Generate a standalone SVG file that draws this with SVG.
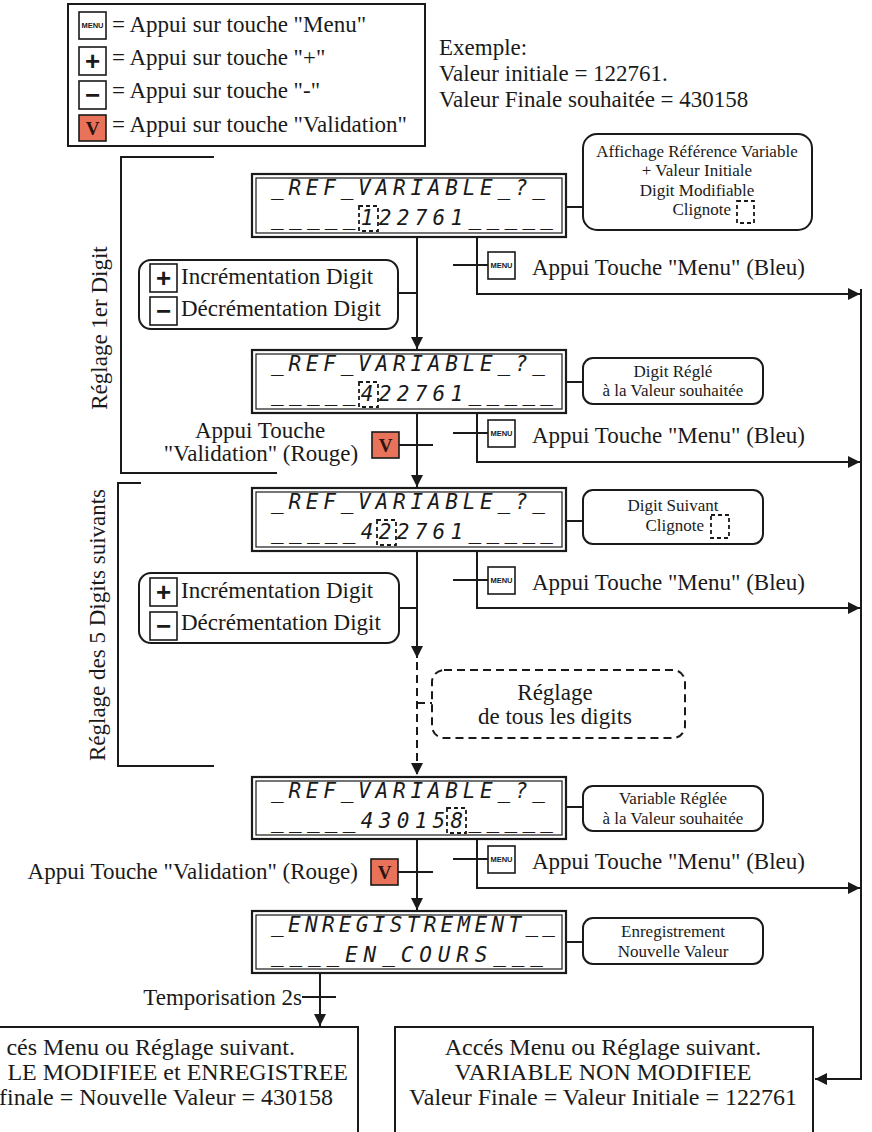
<svg xmlns="http://www.w3.org/2000/svg" width="872" height="1132" viewBox="0 0 872 1132">
<defs>
<style>
.ln{fill:none;stroke:#1a1a1a;stroke-width:2}
.dl{fill:none;stroke:#1a1a1a;stroke-width:2;stroke-dasharray:8 5}
.t{font-family:"Liberation Serif","Times New Roman",serif;fill:#1a1a1a;font-size:23px}
.b{font-family:"Liberation Serif","Times New Roman",serif;fill:#1a1a1a;font-size:24px}
.sm{font-family:"Liberation Serif","Times New Roman",serif;fill:#1a1a1a;font-size:17px}
.mid{text-anchor:middle}
.end{text-anchor:end}
.lcd{font-family:"DejaVu Sans Mono",monospace;font-style:oblique;font-size:21px;fill:#1a1a1a}
.lcdo{fill:#fff;stroke:#1a1a1a;stroke-width:2.2}
.lcdi{fill:none;stroke:#1a1a1a;stroke-width:1.2}
.hl{fill:none;stroke:#1a1a1a;stroke-width:1.8;stroke-dasharray:4 3}
.key{fill:#fff;stroke:#1a1a1a;stroke-width:1.6}
.vkey{fill:#E8735A;stroke:#1a1a1a;stroke-width:1.6}
.kt{font-family:"Liberation Sans",Arial,sans-serif;font-weight:bold;fill:#1a1a1a;text-anchor:middle}
.vt{font-family:"Liberation Serif","Times New Roman",serif;font-weight:bold;fill:#2a1410;text-anchor:middle;font-size:19px}
.co{fill:#fff;stroke:#1a1a1a;stroke-width:2}
.cod{fill:#fff;stroke:#1a1a1a;stroke-width:2;stroke-dasharray:8 5}
.box{fill:#fff;stroke:#1a1a1a;stroke-width:2}
</style>
<marker id="ah" viewBox="0 0 12 12" refX="12" refY="6" markerWidth="12" markerHeight="12" markerUnits="userSpaceOnUse" orient="auto"><path d="M0,0 L12,6 L0,12 z" fill="#1a1a1a"/></marker>
<g id="kmenu"><rect class="key" x="0" y="0" width="27" height="27"/><text class="kt" x="13.5" y="16" font-size="7.5">MENU</text></g>
<g id="kplus"><rect class="key" x="0" y="0" width="27" height="28"/><text class="kt" x="13.5" y="23" font-size="26">+</text></g>
<g id="kminus"><rect class="key" x="0" y="0" width="27" height="28"/><text class="kt" x="13.5" y="23" font-size="26">−</text></g>
<g id="kv"><rect class="vkey" x="0" y="0" width="27" height="26"/><text class="vt" x="13.5" y="20">V</text></g>
</defs>
<rect width="872" height="1132" fill="#fff"/>

<g id="legend">
<rect class="box" x="68" y="4" width="357" height="142"/>
<use href="#kmenu" x="79" y="12"/>
<text class="t" x="112" y="32">= Appui sur touche "Menu"</text>
<use href="#kplus" x="79" y="47"/>
<text class="t" x="112" y="65">= Appui sur touche "+"</text>
<use href="#kminus" x="79" y="81"/>
<text class="t" x="112" y="98">= Appui sur touche "-"</text>
<use href="#kv" x="79" y="115"/>
<text class="t" x="112" y="132">= Appui sur touche "Validation"</text>
</g>

<g id="exemple">
<text class="t" x="439" y="55">Exemple:</text>
<text class="t" x="439" y="81">Valeur initiale = 122761.</text>
<text class="t" x="439" y="107">Valeur Finale souhaitée = 430158</text>
</g>

<g id="bracket1">
<path class="ln" d="M214,157 H121 V473 H277"/>
<text class="t mid" transform="translate(107,328) rotate(-90)">Réglage 1er Digit</text>
</g>
<g id="bracket2">
<path class="ln" d="M141,483 H118 V766 H214"/>
<text class="t mid" transform="translate(105,625) rotate(-90)">Réglage des 5 Digits suivants</text>
</g>

<g id="connectors">
<path class="ln" d="M417,237 V349" marker-end="url(#ah)"/>
<path class="ln" d="M417,413 V487" marker-end="url(#ah)"/>
<path class="ln" d="M417,551 V658" marker-end="url(#ah)"/>
<path class="dl" d="M417,662 V775" marker-end="url(#ah)"/>
<path class="dl" d="M417,703 H432"/>
<path class="ln" d="M417,839 V910" marker-end="url(#ah)"/>
<path class="ln" d="M320,973 V1026" marker-end="url(#ah)"/>
<path class="ln" d="M302,997 H336"/>
<path class="ln" d="M398,293 H417"/>
<path class="ln" d="M399,608 H417"/>
<path class="ln" d="M398,445 H433"/>
<path class="ln" d="M398,872 H433"/>
<path class="ln" d="M566,207 H583"/>
<path class="ln" d="M566,382 H583"/>
<path class="ln" d="M566,521 H583"/>
<path class="ln" d="M566,807 H583"/>
<path class="ln" d="M566,942 H583"/>
<path class="ln" d="M477,237 V294 H860" marker-end="url(#ah)"/>
<path class="ln" d="M477,413 V462 H860" marker-end="url(#ah)"/>
<path class="ln" d="M477,551 V608 H860" marker-end="url(#ah)"/>
<path class="ln" d="M477,839 V888 H860" marker-end="url(#ah)"/>
<path class="ln" d="M453,265 H488"/>
<path class="ln" d="M453,433 H488"/>
<path class="ln" d="M453,580 H488"/>
<path class="ln" d="M453,859 H488"/>
<path class="ln" d="M861,289 V1079 H815" marker-end="url(#ah)"/>
</g>

<g id="menu1"><use href="#kmenu" x="488" y="252"/><text class="t" x="532" y="275">Appui Touche "Menu" (Bleu)</text></g>
<g id="menu2"><use href="#kmenu" x="488" y="420"/><text class="t" x="532" y="443">Appui Touche "Menu" (Bleu)</text></g>
<g id="menu3"><use href="#kmenu" x="488" y="567"/><text class="t" x="532" y="590">Appui Touche "Menu" (Bleu)</text></g>
<g id="menu4"><use href="#kmenu" x="488" y="846"/><text class="t" x="532" y="869">Appui Touche "Menu" (Bleu)</text></g>

<g id="valid1"><use href="#kv" x="372" y="432"/>
<text class="t mid" x="260" y="438">Appui Touche</text>
<text class="t mid" x="261" y="461">"Validation" (Rouge)</text></g>
<g id="valid2"><use href="#kv" x="371" y="859"/>
<text class="t end" x="358" y="879">Appui Touche "Validation" (Rouge)</text></g>

<g id="lcd1">
<rect class="lcdo" x="252" y="174" width="314" height="63"/>
<rect class="lcdi" x="256" y="178" width="306" height="55"/>
<text class="lcd" x="271" y="195" textLength="274" lengthAdjust="spacing">_REF_VARIABLE_?_</text>
<text class="lcd" x="271" y="225" textLength="282" lengthAdjust="spacing">_____122761_____</text>
<rect class="hl" x="359" y="206" width="19" height="25"/>
</g>
<g id="lcd2">
<rect class="lcdo" x="252" y="350" width="314" height="63"/>
<rect class="lcdi" x="256" y="354" width="306" height="55"/>
<text class="lcd" x="271" y="371" textLength="274" lengthAdjust="spacing">_REF_VARIABLE_?_</text>
<text class="lcd" x="271" y="401" textLength="282" lengthAdjust="spacing">_____422761_____</text>
<rect class="hl" x="359" y="382" width="19" height="25"/>
</g>
<g id="lcd3">
<rect class="lcdo" x="252" y="488" width="314" height="63"/>
<rect class="lcdi" x="256" y="492" width="306" height="55"/>
<text class="lcd" x="271" y="509" textLength="274" lengthAdjust="spacing">_REF_VARIABLE_?_</text>
<text class="lcd" x="271" y="539" textLength="282" lengthAdjust="spacing">_____422761_____</text>
<rect class="hl" x="377" y="520" width="19" height="25"/>
</g>
<g id="lcd4">
<rect class="lcdo" x="252" y="777" width="314" height="62"/>
<rect class="lcdi" x="256" y="781" width="306" height="54"/>
<text class="lcd" x="271" y="798" textLength="274" lengthAdjust="spacing">_REF_VARIABLE_?_</text>
<text class="lcd" x="271" y="828" textLength="282" lengthAdjust="spacing">_____430158_____</text>
<rect class="hl" x="447" y="808" width="19" height="25"/>
</g>
<g id="lcd5">
<rect class="lcdo" x="252" y="911" width="314" height="62"/>
<rect class="lcdi" x="256" y="915" width="306" height="54"/>
<text class="lcd" x="271" y="932" textLength="284" lengthAdjust="spacing">_ENREGISTREMENT__</text>
<text class="lcd" x="271" y="962" textLength="272" lengthAdjust="spacing">____EN_COURS___</text>
</g>

<g id="callout1">
<rect class="co" x="583" y="134" width="229" height="96" rx="14"/>
<text class="sm mid" x="697" y="157">Affichage Référence Variable</text>
<text class="sm mid" x="697" y="176">+ Valeur Initiale</text>
<text class="sm mid" x="697" y="196">Digit Modifiable</text>
<text class="sm end" x="731" y="215">Clignote</text>
<rect class="hl" x="737" y="201" width="17" height="22"/>
</g>
<g id="callout2">
<rect class="co" x="583" y="358" width="180" height="46" rx="10"/>
<text class="sm mid" x="673" y="377">Digit Réglé</text>
<text class="sm mid" x="673" y="396">à la Valeur souhaitée</text>
</g>
<g id="callout3">
<rect class="co" x="583" y="490" width="180" height="54" rx="10"/>
<text class="sm mid" x="673" y="511">Digit Suivant</text>
<text class="sm end" x="704" y="531">Clignote</text>
<rect class="hl" x="711" y="515" width="18" height="23"/>
</g>
<g id="callout4">
<rect class="co" x="583" y="786" width="180" height="45" rx="10"/>
<text class="sm mid" x="673" y="804">Variable Réglée</text>
<text class="sm mid" x="673" y="824">à la Valeur souhaitée</text>
</g>
<g id="callout5">
<rect class="co" x="583" y="918" width="180" height="46" rx="10"/>
<text class="sm mid" x="673" y="937">Enregistrement</text>
<text class="sm mid" x="673" y="957">Nouvelle Valeur</text>
</g>

<g id="incdec1">
<rect class="co" x="139" y="260" width="259" height="69" rx="12"/>
<use href="#kplus" x="150" y="264"/>
<use href="#kminus" x="150" y="297"/>
<text class="t" x="181" y="284">Incrémentation Digit</text>
<text class="t" x="181" y="316">Décrémentation Digit</text>
</g>
<g id="incdec2">
<rect class="co" x="139" y="573" width="260" height="70" rx="12"/>
<use href="#kplus" x="150" y="578"/>
<use href="#kminus" x="150" y="612"/>
<text class="t" x="181" y="598">Incrémentation Digit</text>
<text class="t" x="181" y="630">Décrémentation Digit</text>
</g>

<g id="reglage-tous">
<rect class="cod" x="432" y="670" width="253" height="68" rx="12"/>
<text class="t mid" x="555" y="700">Réglage</text>
<text class="t mid" x="555" y="724">de tous les digits</text>
</g>

<g id="tempo"><text class="t end" x="302" y="1005">Temporisation 2s</text></g>

<g id="fin-modifiee">
<rect class="box" x="-80" y="1027" width="438" height="120"/>
<text class="b end" x="295" y="1055">cés Menu ou Réglage suivant.</text>
<text class="b end" x="348" y="1080">LE  MODIFIEE et ENREGISTREE</text>
<text class="b end" x="333" y="1105">finale = Nouvelle Valeur = 430158</text>
</g>
<g id="fin-non-modifiee">
<rect class="box" x="395" y="1027" width="418" height="120"/>
<text class="b mid" x="603" y="1055">Accés Menu ou Réglage suivant.</text>
<text class="b mid" x="603" y="1080">VARIABLE NON MODIFIEE</text>
<text class="b mid" x="603" y="1105">Valeur Finale = Valeur Initiale = 122761</text>
</g>
</svg>
